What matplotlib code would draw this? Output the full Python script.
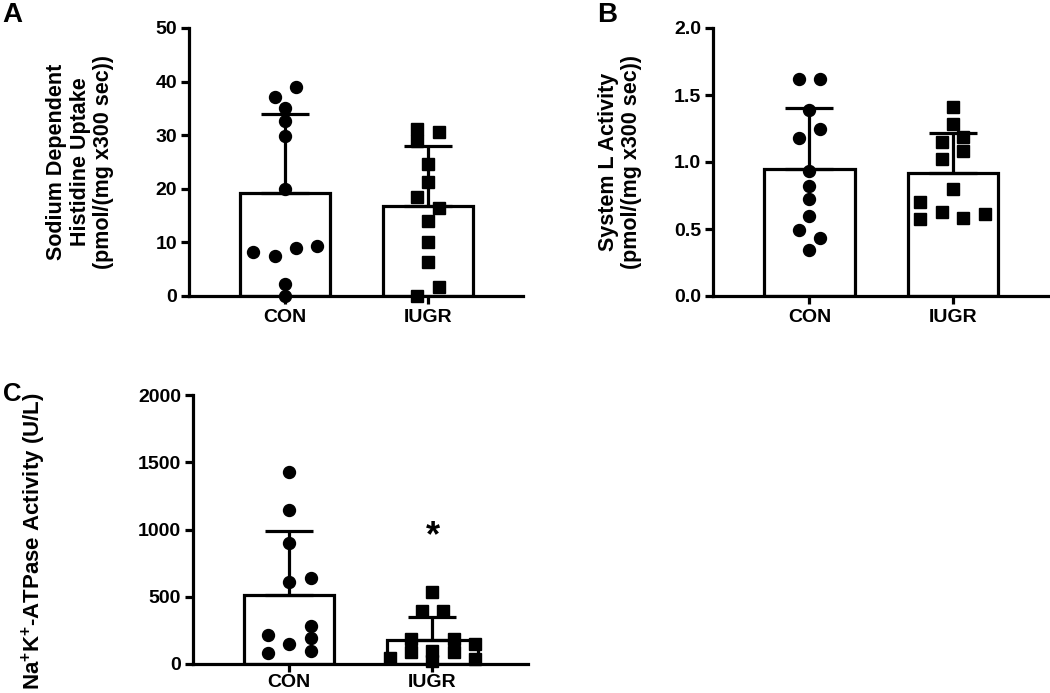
import numpy as np
import matplotlib
matplotlib.use("Agg")
import matplotlib.pyplot as plt

plt.rcParams['font.family'] = ['Liberation Sans', 'DejaVu Sans']
plt.rcParams['font.weight'] = 'bold'
plt.rcParams['mathtext.fontset'] = 'custom'
plt.rcParams['mathtext.rm'] = 'Liberation Sans:bold'
plt.rcParams['mathtext.bf'] = 'Liberation Sans:bold'
plt.rcParams['mathtext.default'] = 'regular'

categories = ["CON", "IUGR"]

# Panel A: sodium dependent histidine uptake
a_con = [39.0, 37.1, 35.1, 32.6, 29.9, 19.9, 9.3, 9.0, 8.3, 7.5, 2.2, 0.0]
a_con_slot = [1, -1, 0, 0, 0, 0, 3, 1, -3, -1, 0, 0]
a_iugr = [31.1, 30.6, 29.0, 24.6, 21.2, 18.4, 16.4, 14.0, 10.0, 6.3, 1.7, 0.0]
a_iugr_slot = [-1, 1, -1, 0, 0, -1, 1, 0, 0, 0, 1, -1]
a_mean = [19.2, 16.8]
a_sd = [14.7, 11.1]

# Panel B: System L activity
b_con = [1.62, 1.62, 1.385, 1.25, 1.18, 0.93, 0.82, 0.725, 0.595, 0.49, 0.435, 0.34]
b_con_slot = [-1, 1, 0, 1, -1, 0, 0, 0, 0, -1, 1, 0]
b_iugr = [1.41, 1.28, 1.19, 1.15, 1.08, 1.02, 0.80, 0.705, 0.575, 0.625, 0.58, 0.615]
b_iugr_slot = [0, 0, 1, -1, 1, -1, 0, -3, -3, -1, 1, 3]
b_mean = [0.946, 0.917]
b_sd = [0.455, 0.303]

# Panel C: Na+K+-ATPase activity
c_con = [1430, 1145, 897, 642, 612, 283, 216, 196, 146, 97, 79]
c_con_slot = [0, 0, 0, 2, 0, 2, -2, 2, 0, 2, -2]
c_iugr = [533, 394, 394, 187, 187, 146, 97, 89, 89, 42, 40, 25]
c_iugr_slot = [0, -1, 1, -2, 2, 4, 0, -2, 2, -4, 4, 0]
c_mean = [515, 180]
c_sd = [476, 172]

SLOT = 0.075
LW = 2.3
MS = 8.6

fig = plt.figure(figsize=(10.5, 6.93), dpi=100)
W, H = 1050, 693


def add_axes(left, right, top, bottom):
    return fig.add_axes([left / W, (H - bottom) / H, (right - left) / W, (bottom - top) / H])


def panel(ax, con, con_slot, iugr, iugr_slot, means, sds, ylim, yticks, fmt, xpad=4):
    x = np.arange(len(categories))
    ax.bar(x, means, width=0.63, color='white', edgecolor='black', linewidth=LW, zorder=2)
    ax.errorbar(x, means, yerr=[[0] * len(means), sds], fmt='none', ecolor='black',
                elinewidth=LW, capsize=17, capthick=LW, zorder=3)
    ax.plot(x[0] + np.array(con_slot) * SLOT, con, 'o', ms=MS, color='black',
            mec='black', clip_on=False, zorder=4)
    ax.plot(x[1] + np.array(iugr_slot) * SLOT, iugr, 's', ms=MS, color='black',
            mec='black', clip_on=False, zorder=4)
    ax.set_xlim(-0.675, 1.665)
    ax.set_ylim(*ylim)
    ax.set_yticks(yticks)
    ax.set_yticklabels([fmt.format(v) for v in yticks])
    ax.set_xticks(x)
    ax.set_xticklabels(categories)
    for s in ['top', 'right']:
        ax.spines[s].set_visible(False)
    for s in ['left', 'bottom']:
        ax.spines[s].set_linewidth(LW)
    ax.tick_params(axis='both', width=LW, length=5.5, labelsize=14, color='black')
    ax.tick_params(axis='y', pad=3)
    ax.tick_params(axis='x', pad=xpad)


axA = add_axes(189, 523, 28, 296)
panel(axA, a_con, a_con_slot, a_iugr, a_iugr_slot, a_mean, a_sd, (0, 50),
      [0, 10, 20, 30, 40, 50], "{:.0f}")
axA.set_ylabel("Sodium Dependent\nHistidine Uptake\n(pmol/(mg x300 sec))",
               fontsize=15.5, fontweight='bold', va='center', ha='center',
               multialignment='center', linespacing=1.15)
axA.yaxis.set_label_coords(-0.326, 0.5)

axB = add_axes(712.7, 1048, 28, 296)
panel(axB, b_con, b_con_slot, b_iugr, b_iugr_slot, b_mean, b_sd, (0, 2.0),
      [0.0, 0.5, 1.0, 1.5, 2.0], "{:.1f}")
axB.set_ylabel("System L Activity\n(pmol/(mg x300 sec))",
               fontsize=15.5, fontweight='bold', va='center', ha='center',
               multialignment='center', linespacing=1.15)
axB.yaxis.set_label_coords(-0.277, 0.5)

axC = add_axes(192.7, 527.7, 395, 664)
panel(axC, c_con, c_con_slot, c_iugr, c_iugr_slot, c_mean, c_sd, (0, 2000),
      [0, 500, 1000, 1500, 2000], "{:.0f}", xpad=2)
axC.set_ylabel("Na$^{+}$K$^{+}$-ATPase Activity (U/L)",
               fontsize=16, fontweight='bold', va='center', ha='center')
axC.yaxis.set_label_coords(-0.475, 0.455)
axC.text(1, 945, "*", ha='center', va='center', fontsize=26, fontweight='bold')

fig.text(2 / W, 1 - 2 / H, "A", fontsize=20, fontweight='bold', ha='left', va='top')
fig.text(597 / W, 1 - 2 / H, "B", fontsize=20, fontweight='bold', ha='left', va='top')
fig.text(3 / W, 1 - 382 / H, "C", fontsize=18.5, fontweight='bold', ha='left', va='top')

fig.savefig("out.png", dpi=100, facecolor='white')
